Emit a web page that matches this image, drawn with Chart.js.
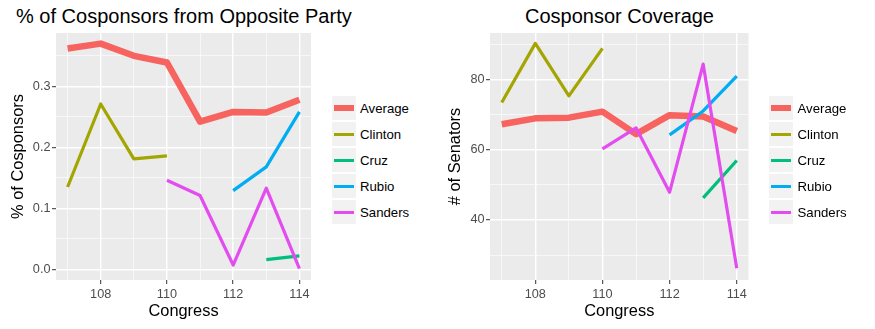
<!DOCTYPE html>
<html>
<head>
<meta charset="utf-8">
<script src="https://cdn.jsdelivr.net/npm/chart.js@4.4.1/dist/chart.umd.min.js"></script>
<style>
  body { margin: 0; background: #fff; font-family: "Liberation Sans", Arial, sans-serif; }
  #wrap { position: relative; width: 875px; height: 329px; overflow: hidden; }
  canvas { position: absolute; top: 0; }
  .titolo { position: absolute; font-size: 20px; line-height: 20px; color: #000; white-space: nowrap; }
  .legenda { position: absolute; }
  .voce { position: relative; height: 26.1px; }
  .chiave { position: absolute; left: 0; top: 1px; width: 24px; height: 24px; background: #f2f2f2; }
  .chiave span { position: absolute; left: 2px; right: 2px; }
  .etichetta { position: absolute; left: 28.5px; top: 13px; transform: translateY(-50%); font-size: 13.2px; color: #000; white-space: nowrap; }
</style>
</head>
<body>
<div id="wrap">
  <div class="titolo" style="left:16px; top:6px;">% of Cosponsors from Opposite Party</div>
  <div class="titolo" style="left:619.5px; top:6px; transform: translateX(-50%);">Cosponsor Coverage</div>
  <canvas id="graficoSx" width="330" height="329" style="left:0px;"></canvas>
  <canvas id="graficoDx" width="330" height="329" style="left:440px;"></canvas>
  <div class="legenda" id="legendaSx" style="left:331.5px; top:95px;"></div>
  <div class="legenda" id="legendaDx" style="left:769px; top:95px;"></div>
</div>
<script>
// Dati
const congressi = [107, 108, 109, 110, 111, 112, 113, 114];
const serie = ['Average', 'Clinton', 'Cruz', 'Rubio', 'Sanders'];
const colori = ['#F7635F', '#A3A500', '#00BF7D', '#00ADF2', '#E34DF0'];

// % di cosponsor dal partito opposto
const oppAverage = [0.362, 0.370, 0.350, 0.339, 0.242, 0.258, 0.257, 0.278];
const oppClinton = [0.135, 0.271, 0.181, 0.186, null, null, null, null];
const oppCruz    = [null, null, null, null, null, null, 0.016, 0.022];
const oppRubio   = [null, null, null, null, null, 0.129, 0.168, 0.258];
const oppSanders = [null, null, null, 0.146, 0.121, 0.007, 0.133, 0.001];

// numero di senatori
const senAverage = [67.2, 68.9, 69.1, 70.8, 64.4, 69.8, 69.4, 65.3];
const senClinton = [73.4, 90.2, 75.3, 88.8, null, null, null, null];
const senCruz    = [null, null, null, null, null, null, 46.3, 56.9];
const senRubio   = [null, null, null, null, null, 64.2, 71.0, 80.9];
const senSanders = [null, null, null, 60.2, 66.2, 47.9, 84.3, 26.3];

// Tick
const tickX = [107, 108, 109, 110, 111, 112, 113, 114];
const tickXMaggiori = [108, 110, 112, 114];
const tickOpp = [0, 0.05, 0.1, 0.15, 0.2, 0.25, 0.3, 0.35];
const tickOppMaggiori = [0, 0.1, 0.2, 0.3];
const tickSen = [30, 40, 50, 60, 70, 80, 90];
const tickSenMaggiori = [40, 60, 80];

const grigioTick = '#4d4d4d';

// sfondo grigio del pannello
const sfondoPannello = {
  id: 'sfondoPannello',
  beforeDraw(chart) {
    const { ctx, chartArea } = chart;
    ctx.save();
    ctx.fillStyle = '#ebebeb';
    ctx.fillRect(chartArea.left, chartArea.top, chartArea.right - chartArea.left, chartArea.bottom - chartArea.top);
    ctx.restore();
  }
};

function punti(valori) {
  const out = [];
  valori.forEach((v, i) => {
    if (v !== null) out.push({ x: congressi[i], y: v });
  });
  return out;
}

function creaDatasets(tutti) {
  return tutti.map((valori, i) => ({
    label: serie[i],
    data: punti(valori),
    borderColor: colori[i],
    backgroundColor: colori[i],
    borderWidth: i === 0 ? 6.5 : 3.2,
    borderCapStyle: 'butt',
    borderJoinStyle: 'round',
    pointRadius: 0,
    tension: 0,
    order: tutti.length - i
  }));
}

function assePersonalizzato(valori, maggiori, min, max, formato, titolo, larghezza, asse, padTitolo) {
  const isMaggiore = v => maggiori.some(m => Math.abs(m - v) < 1e-9);
  return {
    type: 'linear',
    min: min,
    max: max,
    afterBuildTicks: scale => {
      scale.ticks = valori.map(v => ({ value: v, minore: !isMaggiore(v) }));
    },
    afterFit: scale => {
      if (asse === 'y') scale.width = larghezza;
      else scale.height = larghezza;
    },
    border: { display: false },
    grid: {
      color: '#ffffff',
      lineWidth: ctx => (ctx.tick && ctx.tick.minore) ? 0.6 : 1.4,
      drawTicks: true,
      tickLength: 4,
      tickWidth: 1,
      tickColor: ctx => (ctx.tick && ctx.tick.minore) ? 'rgba(0,0,0,0)' : '#333333'
    },
    ticks: {
      autoSkip: false,
      maxRotation: 0,
      padding: asse === 'y' ? 1.5 : 2.5,
      color: grigioTick,
      font: { family: '"Liberation Sans", Arial, sans-serif', size: 12.7 },
      callback: (value, index, ticks) => ticks[index].minore ? '' : formato(value)
    },
    title: {
      display: true,
      text: titolo,
      color: '#000',
      font: { family: '"Liberation Sans", Arial, sans-serif', size: 16.4 },
      padding: padTitolo
    }
  };
}

function creaGrafico(id, tutti, yValori, yMaggiori, yMin, yMax, yFormato, yTitolo, yLarghezza, padDestra, padTitoloY) {
  const ctx = document.getElementById(id).getContext('2d');
  return new Chart(ctx, {
    type: 'line',
    data: { datasets: creaDatasets(tutti) },
    options: {
      responsive: false,
      animation: false,
      layout: { padding: { top: 33, left: 0, right: padDestra, bottom: 0 } },
      plugins: {
        legend: { display: false },
        tooltip: { enabled: false },
        title: { display: false }
      },
      scales: {
        x: assePersonalizzato(tickX, tickXMaggiori, 106.65, 114.35, v => String(v), 'Congress', 49, 'x', { top: 0, bottom: 8 }),
        y: assePersonalizzato(yValori, yMaggiori, yMin, yMax, yFormato, yTitolo, yLarghezza, 'y', { top: padTitoloY, bottom: 0 })
      }
    },
    plugins: [sfondoPannello]
  });
}

function creaLegenda(id) {
  const contenitore = document.getElementById(id);
  serie.forEach((nome, i) => {
    const voce = document.createElement('div');
    voce.className = 'voce';
    const spessore = i === 0 ? 6 : 3;
    voce.innerHTML =
      `<div class="chiave"><span style="top:${12 - spessore / 2}px; height:${spessore}px; background:${colori[i]};"></span></div>
       <div class="etichetta">${nome}</div>`;
    contenitore.appendChild(voce);
  });
}

creaGrafico('graficoSx',
  [oppAverage, oppClinton, oppCruz, oppRubio, oppSanders],
  tickOpp, tickOppMaggiori, -0.0175, 0.3874, v => v.toFixed(1),
  '% of Cosponsors', 56, 19, 9);

creaGrafico('graficoDx',
  [senAverage, senClinton, senCruz, senRubio, senSanders],
  tickSen, tickSenMaggiori, 22.94, 93.16, v => String(v),
  '# of Senators', 50, 21.5, 6);

creaLegenda('legendaSx');
creaLegenda('legendaDx');
</script>
</body>
</html>
